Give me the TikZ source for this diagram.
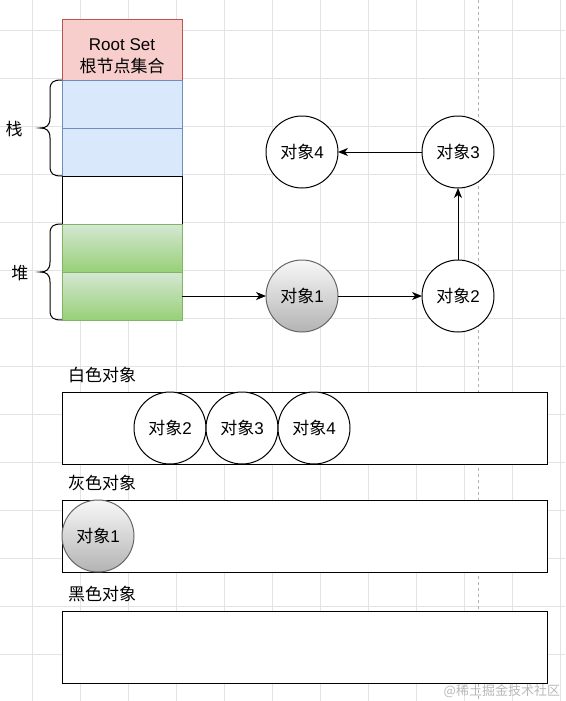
\documentclass[tikz,border=0pt]{standalone}
\usepackage{fontspec}
\setmainfont{Liberation Sans}
\newfontfamily\cjk{Noto Sans CJK SC}
\usetikzlibrary{arrows.meta}
\newcommand\zh[1]{{\cjk #1}}
\definecolor{redfill}{HTML}{F8CECC}
\definecolor{redline}{HTML}{B85450}
\definecolor{bluefill}{HTML}{DAE8FC}
\definecolor{blueline}{HTML}{6C8EBF}
\definecolor{greentop}{HTML}{D5E8D4}
\definecolor{greenbot}{HTML}{97D077}
\definecolor{greenline}{HTML}{82B366}
\definecolor{graytop}{HTML}{F8F8F8}
\definecolor{graybot}{HTML}{B3B3B3}
\definecolor{grayline}{HTML}{666666}
\definecolor{gridc}{HTML}{E3E3E3}
\begin{document}
\begin{tikzpicture}[x=1pt,y=-1pt,
  every node/.style={font=\fontsize{17}{22}\selectfont, inner sep=0pt, outer sep=0pt},
  cell/.style={draw, line width=1pt, minimum width=120pt, minimum height=48pt, anchor=north west},
  bluecell/.style={cell, fill=bluefill, draw=blueline},
  greencell/.style={cell, draw=greenline, top color=greentop, bottom color=greenbot},
  obj/.style={circle, draw, line width=1pt, fill=white, minimum size=72pt},
  grayobj/.style={obj, draw=grayline, top color=graytop, bottom color=graybot},
  band/.style={draw, line width=1pt, fill=white, minimum width=485pt, minimum height=72pt, anchor=north west},
  lab/.style={anchor=west},
  arr/.style={line width=1pt, -{Stealth[length=10pt,width=8pt,inset=3pt]}},
  bracel/.style={line width=1pt}
]
\useasboundingbox (0,0) rectangle (565,701);
\fill[white] (0,0) rectangle (565,701);
% grid
\foreach \i in {0,...,11} \draw[gridc, line width=0.8pt] (32.7+48*\i,0) -- (32.7+48*\i,701);
\foreach \i in {0,...,13} \draw[gridc, line width=0.8pt] (0,30.7+48*\i) -- (565,30.7+48*\i);
% page break line
\draw[gray!60, dashed, line width=0.8pt] (478.5,0) -- (478.5,701);

% stack column
\node[cell, fill=redfill, draw=redline, minimum height=60pt, align=center] (root) at (62,20) {};
\node[align=center] (roottxt) at (122,56) {Root Set\\\zh{根节点集合}};
\node[bluecell] (b1) at (62,80) {};
\node[bluecell] (b2) at (62,128) {};
\node[cell, fill=white] (w1) at (62,176) {};
\node[greencell] (g1) at (62,224) {};
\node[greencell] (g2) at (62,272) {};

% braces
\draw[bracel] (62,80) .. controls (53,80) and (50,82) .. (50,90) -- (50,118)
  .. controls (50,126) and (46,128) .. (40,128) .. controls (46,128) and (50,130) .. (50,138)
  -- (50,166) .. controls (50,174) and (53,176) .. (62,176);
\draw[bracel] (62,224) .. controls (53,224) and (50,226) .. (50,234) -- (50,262)
  .. controls (50,270) and (46,272) .. (40,272) .. controls (46,272) and (50,274) .. (50,282)
  -- (50,310) .. controls (50,318) and (53,320) .. (62,320);
\node (zhan) at (14,129) {\zh{栈}};
\node (dui) at (20,273) {\zh{堆}};

% object graph
\node[grayobj] (o1) at (302,296) {\zh{对象}1};
\node[obj] (o2) at (458,296) {\zh{对象}2};
\node[obj] (o3) at (458,152) {\zh{对象}3};
\node[obj] (o4) at (302,152) {\zh{对象}4};
\draw[arr] (g2.east) -- (o1.west);
\draw[arr] (o1) -- (o2);
\draw[arr] (o2) -- (o3);
\draw[arr] (o3) -- (o4);

% colour sets
\node[lab] (lw) at (68,375) {\zh{白色对象}};
\node[band] (bw) at (62,392) {};
\node[obj] (w2) at (170,428) {\zh{对象}2};
\node[obj] (w3) at (242,428) {\zh{对象}3};
\node[obj] (w4) at (314,428) {\zh{对象}4};

\node[lab] (lg) at (68,483) {\zh{灰色对象}};
\node[band] (bg) at (62,500) {};
\node[grayobj] (g1o) at (98,536) {\zh{对象}1};

\node[lab] (lb) at (68,594) {\zh{黑色对象}};
\node[band] (bb) at (62,611) {};

% watermark
\node[font=\fontsize{13}{15}\selectfont, text=gray!55, anchor=east] (wm) at (560,691) {\zh{@稀土掘金技术社区}};
\end{tikzpicture}
\end{document}
